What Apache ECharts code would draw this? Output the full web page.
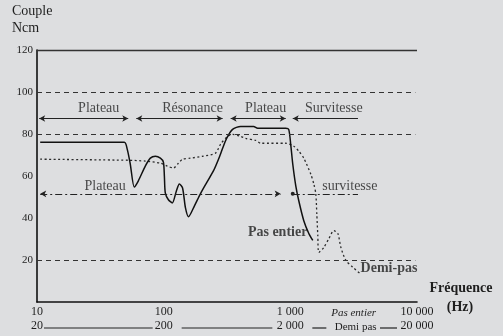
<!DOCTYPE html>
<html>
<head>
<meta charset="utf-8">
<script src="https://cdn.jsdelivr.net/npm/echarts@6/dist/echarts.min.js"></script>
<style>
  html, body { margin: 0; padding: 0; background: #dddee0; }
  #chart { width: 503px; height: 336px; }
</style>
</head>
<body>
<div id="chart"></div>
<script>
// Frequency tick labels: full-step scale and the matching half-step scale
const fullStepTicks = ['10', '100', '1 000', '10 000'];
const halfStepTicks = ['20', '200', '2 000', '20 000'];

// Torque curve, full-step drive (Hz, Ncm)
const pasEntierFreq = [10.6, 48.9, 51.6, 54.5, 58.6, 63, 71.6, 78.5, 86, 94.2, 99.5, 101.3, 103, 109, 117, 126, 133, 141, 148.5, 157, 175, 195, 218, 247, 271, 292, 314, 350, 405, 513, 552, 920, 971, 1007, 1045, 1104, 1166, 1277, 1399, 1504];
const pasEntierTorque = [76.1, 76.1, 72.7, 65.7, 54.8, 57.6, 64.7, 68.5, 69.4, 68.5, 66.6, 60.0, 52.0, 48.7, 47.2, 52.9, 56.2, 54.3, 44.9, 40.6, 45.8, 51.5, 56.7, 62.4, 68.0, 73.2, 77.9, 82.2, 83.6, 83.6, 82.7, 82.7, 82.2, 75.1, 65.7, 55.3, 48.2, 38.7, 32.6, 29.3];

// Torque curve, half-step drive (Hz, Ncm)
const demiPasFreq = [10.6, 52.5, 71.6, 94.2, 107, 119.4, 130.7, 141, 162.7, 202.6, 256.6, 281, 319.5, 350, 405, 443.6, 532, 583, 920, 1064, 1166, 1277, 1450, 1532, 1589, 1618, 1648, 1679, 1839, 2014, 2206, 2373, 2506, 2746, 3120, 3609];
const demiPasTorque = [68.0, 67.5, 67.1, 66.1, 64.7, 63.8, 66.1, 68.0, 68.5, 69.4, 70.9, 75.1, 78.9, 79.8, 78.9, 77.9, 77.0, 75.6, 75.6, 74.2, 71.8, 68.5, 60.9, 56.2, 51.5, 42.0, 31.6, 23.6, 26.0, 30.2, 34.0, 32.6, 26.0, 19.8, 16.5, 13.2];

// Reference levels
const frameLevel = 120;
const dashedLevels = [100, 80, 20];

// Operating zones (upper band of arrows)
const zoneLevel = 87.4;
const zoneFrom = [10.4, 60.8, 338, 1045];
const zoneTo = [52.5, 292, 920, 3420];
const zoneNames = ['Plateau', 'Résonance', 'Plateau', 'Survitesse'];
const zoneLabelFreq = [30.7, 169, 639, 2206];
const zoneLabelTorque = 92.1;

// Pull-out level (dash-dot line)
const pullOutLevel = 51.5;
const pullOutFrom = [10.6, 1045];
const pullOutTo = [839, 3420];

// In-plot captions
const captionNames = ['Plateau', 'survitesse'];
const captionFreq = [34.5, 2951];
const captionTorque = [55.3, 55.3];
const curveNames = ['Pas entier', 'Demi-pas'];
const curveNameFreq = [794, 6012];
const curveNameTorque = [33.1, 16.1];

const SERIF = '"Liberation Serif", "DejaVu Serif", serif';
const INK = '#1e1e1e';

const zip = (xs, ys) => xs.map((x, i) => [x, ys[i]]);

const markLines = [];
markLines.push([{ coord: [10, frameLevel], symbol: 'none', lineStyle: { type: 'solid', width: 1.4, color: '#333' } },
                { coord: [10000, frameLevel], symbol: 'none' }]);
dashedLevels.forEach(v => {
  markLines.push([{ coord: [10, v], symbol: 'none', lineStyle: { type: [5, 4], width: 1.2, color: '#333' } },
                  { coord: [9700, v], symbol: 'none' }]);
});
zoneFrom.forEach((f, i) => {
  const last = i === zoneFrom.length - 1;
  markLines.push([{ coord: [f, zoneLevel], symbol: 'arrow', symbolSize: [5, 6], lineStyle: { type: 'solid', width: 1.2, color: '#222' } },
                  { coord: [zoneTo[i], zoneLevel], symbol: last ? 'none' : 'arrow', symbolSize: [5, 6] }]);
});
pullOutFrom.forEach((f, i) => {
  markLines.push([{ coord: [f, pullOutLevel], symbol: i === 0 ? 'arrow' : 'circle', symbolSize: i === 0 ? [5, 6] : 4,
                    lineStyle: { type: [7, 3, 2, 3], width: 1.2, color: '#222' } },
                  { coord: [pullOutTo[i], pullOutLevel], symbol: i === 0 ? 'arrow' : 'none', symbolSize: [5, 6] }]);
});

const textLabel = (weight) => ({
  show: true,
  position: [0, 0],
  align: 'center',
  verticalAlign: 'middle',
  formatter: p => p.name,
  fontFamily: SERIF,
  fontSize: 14,
  fontWeight: weight,
  color: INK,
  textBorderWidth: 0
});

const chart = echarts.init(document.getElementById('chart'), null, { renderer: 'canvas' });

chart.setOption({
  backgroundColor: '#dddee0',
  animation: false,
  textStyle: { fontFamily: SERIF, color: INK },
  grid: { left: 37, right: 86, top: 50, bottom: 34 },
  xAxis: {
    type: 'log', logBase: 10, min: 10, max: 10000,
    axisLine: { show: true, lineStyle: { color: '#111', width: 1.6 } },
    axisTick: { show: false },
    minorTick: { show: false },
    splitLine: { show: false },
    axisLabel: {
      margin: 3,
      showMinLabel: true, showMaxLabel: true,
      formatter: (v, i) => '{a|' + fullStepTicks[i] + '}\n{b|' + halfStepTicks[i] + '}',
      rich: {
        a: { fontFamily: SERIF, fontSize: 12, lineHeight: 14, color: INK },
        b: { fontFamily: SERIF, fontSize: 12, lineHeight: 14, color: INK }
      }
    }
  },
  yAxis: {
    type: 'value', min: 0, max: 120, interval: 20,
    axisLine: { show: true, lineStyle: { color: '#111', width: 1.6 } },
    axisTick: { show: false },
    splitLine: { show: false },
    axisLabel: {
      margin: 4, fontSize: 11, fontFamily: SERIF, color: INK,
      formatter: v => (v === 0 ? '' : String(v))
    }
  },
  series: [
    {
      name: 'Pas entier',
      type: 'line',
      data: zip(pasEntierFreq, pasEntierTorque),
      showSymbol: false,
      smooth: 0.25,
      lineStyle: { color: '#111', width: 1.5 },
      markLine: {
        silent: true,
        label: { show: false },
        data: markLines
      },
      z: 3
    },
    {
      name: 'Demi-pas',
      type: 'line',
      data: zip(demiPasFreq, demiPasTorque),
      showSymbol: false,
      smooth: 0.25,
      lineStyle: { color: '#2a2a2a', width: 1.3, type: [2, 2.5] },
      z: 2
    },
    {
      name: 'zones',
      type: 'scatter',
      symbolSize: 0,
      silent: true,
      data: zoneLabelFreq.map((f, i) => ({ value: [f, zoneLabelTorque], name: zoneNames[i] })),
      label: textLabel('normal')
    },
    {
      name: 'captions',
      type: 'scatter',
      symbolSize: 0,
      silent: true,
      data: captionFreq.map((f, i) => ({ value: [f, captionTorque[i]], name: captionNames[i] })),
      label: textLabel('normal')
    },
    {
      name: 'curve names',
      type: 'scatter',
      symbolSize: 0,
      silent: true,
      data: curveNameFreq.map((f, i) => ({ value: [f, curveNameTorque[i]], name: curveNames[i] })),
      label: textLabel('bold')
    }
  ]
});

// Second frequency scale decorations below the axis, placed from the axis scale
const px = f => chart.convertToPixel({ xAxisIndex: 0, yAxisIndex: 0 }, [f, 0]);
const p10 = px(10), p100 = px(100), p1000 = px(1000), p10000 = px(10000);
const base = p10[1];
const ruleY = base + 26;
const rules = [
  [p10[0] + 7, p100[0] - 11],
  [p100[0] + 18, p1000[0] - 18],
  [p1000[0] + 22, p1000[0] + 36],
  [p10000[0] - 37, p10000[0] - 20]
];
const midX = px(Math.sqrt(1000 * 10000))[0];
const nameX = p10000[0] + 44;

chart.setOption({
  graphic: [
    { type: 'text', left: 12, top: 4, style: { text: 'Couple', font: '14px ' + SERIF, fill: INK } },
    { type: 'text', left: 12, top: 21, style: { text: 'Ncm', font: '14px ' + SERIF, fill: INK } },
    ...rules.map(r => ({ type: 'line', silent: true, shape: { x1: r[0], y1: ruleY, x2: r[1], y2: ruleY }, style: { stroke: '#222', lineWidth: 1.2 } })),
    { type: 'text', x: midX, y: base + 11, style: { text: 'Pas entier', font: 'italic 11px ' + SERIF, fill: INK, align: 'center', verticalAlign: 'middle' } },
    { type: 'text', x: midX + 2, y: base + 25, style: { text: 'Demi pas', font: '11px ' + SERIF, fill: INK, align: 'center', verticalAlign: 'middle' } },
    { type: 'text', x: nameX, y: base - 14, style: { text: 'Fréquence', font: 'bold 14px ' + SERIF, fill: INK, align: 'center', verticalAlign: 'middle' } },
    { type: 'text', x: nameX - 1, y: base + 5, style: { text: '(Hz)', font: 'bold 14px ' + SERIF, fill: INK, align: 'center', verticalAlign: 'middle' } }
  ]
});
</script>
</body>
</html>
